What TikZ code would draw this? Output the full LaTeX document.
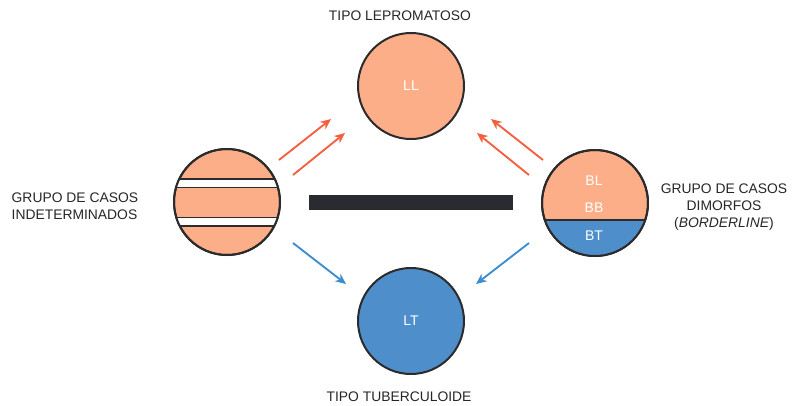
\documentclass[tikz,border=0pt]{standalone}
\usepackage{fontspec}
\setmainfont{Liberation Sans}
\usetikzlibrary{arrows.meta}
\definecolor{salmon}{HTML}{FCAE89}
\definecolor{bluefill}{HTML}{4E8FCB}
\definecolor{redarrow}{HTML}{F4603F}
\definecolor{bluearrow}{HTML}{3A8DD0}
\definecolor{barcol}{HTML}{2A2B30}
\definecolor{outline}{HTML}{2B2B2B}
\tikzset{
  px/.style={x=0.75pt,y=-0.75pt},
  ball/.style={circle,draw=outline,line width=1.5pt,minimum size=79.5pt,inner sep=0pt},
  lbl/.style={font=\fontsize{10.4}{12.6}\selectfont,text=black!85},
  inlbl/.style={font=\fontsize{10.5}{12}\selectfont,text=white},
  redarr/.style={draw=redarrow,line width=1.4pt,-{Stealth[length=8pt,width=7pt]}},
  bluearr/.style={draw=bluearrow,line width=1.4pt,-{Stealth[length=8pt,width=7pt]}},
}
\begin{document}
\begin{tikzpicture}[px]
\useasboundingbox (0,0) rectangle (793,405);
% top circle
\node[ball,fill=salmon] (LL) at (411,86) {};
\node[inlbl] (LLt) at (LL) {LL};
% bottom circle
\node[ball,fill=bluefill] (LT) at (411,321) {};
\node[inlbl] (LTt) at (LT) {LT};
% left circle with stripes
\node[ball,fill=salmon] (IND) at (227,202) {};
\begin{scope}
  \clip (227,202) circle (53);
  \fill[white] (160,179) rectangle (300,187.5);
  \fill[white] (160,217.5) rectangle (300,226);
  \draw[outline,line width=1.3pt] (160,179) -- (300,179) (160,187.5) -- (300,187.5)
        (160,217.5) -- (300,217.5) (160,226) -- (300,226);
\end{scope}
\draw[outline,line width=1.5pt] (227,202) circle (53);
% right circle
\node[ball,fill=salmon] (BOR) at (595,203) {};
\begin{scope}
  \clip (595,203) circle (53);
  \fill[bluefill] (530,220) rectangle (660,270);
  \draw[outline,line width=1.3pt] (530,220) -- (660,220);
\end{scope}
\draw[outline,line width=1.5pt] (595,203) circle (53);
\node[inlbl] (BL) at (594,181) {BL};
\node[inlbl] (BB) at (594,208) {BB};
\node[inlbl] (BT) at (594,236) {BT};
% bar
\fill[barcol] (309,195) rectangle (513,210);
% titles
\node[lbl] (t1) at (400,16) {TIPO LEPROMATOSO};
\node[lbl] (t2) at (399,397) {TIPO TUBERCULOIDE};
\node[lbl,align=left,anchor=west] (t3) at (7,206) {GRUPO DE CASOS\\INDETERMINADOS};
\node[lbl,align=center] (t4) at (724,207) {GRUPO DE CASOS\\DIMORFOS\\(\textit{BORDERLINE})};
% arrows
\coordinate (a1s) at (279,160); \coordinate (a1e) at (331,119);
\coordinate (a2s) at (293,175); \coordinate (a2e) at (345,133);
\coordinate (a3s) at (543,160); \coordinate (a3e) at (491,119);
\coordinate (a4s) at (529,175); \coordinate (a4e) at (477,133);
\coordinate (b1s) at (293,243); \coordinate (b1e) at (346,284);
\coordinate (b2s) at (529,243); \coordinate (b2e) at (476,284);
\draw[redarr] (a1s) -- (a1e);
\draw[redarr] (a2s) -- (a2e);
\draw[redarr] (a3s) -- (a3e);
\draw[redarr] (a4s) -- (a4e);
\draw[bluearr] (b1s) -- (b1e);
\draw[bluearr] (b2s) -- (b2e);
\end{tikzpicture}
\end{document}
